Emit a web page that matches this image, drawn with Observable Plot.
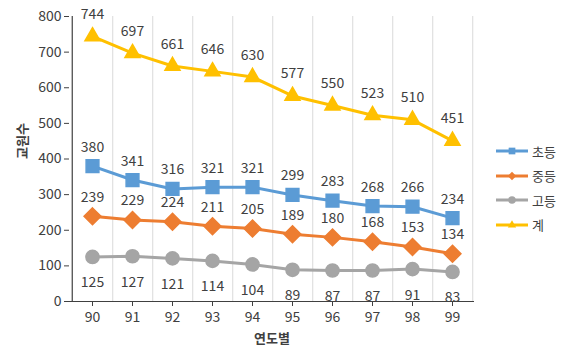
<!DOCTYPE html>
<html><head><meta charset="utf-8">
<script src="https://cdn.jsdelivr.net/npm/d3@7"></script>
<script src="https://cdn.jsdelivr.net/npm/@observablehq/plot@0.6"></script>
<style>
body{margin:0;background:#fff;font-family:"Noto Sans CJK KR","Noto Sans",sans-serif;}
#wrap{position:relative;width:570px;height:358px;}
#legend{position:absolute;left:494px;top:139px;font-size:13px;color:#404040;}
#legend .it{display:flex;align-items:center;height:24.5px;}
#legend svg{margin-right:2px;}
</style></head>
<body><div id="wrap"><div id="legend"></div></div>
<script>
const years = ["90","91","92","93","94","95","96","97","98","99"];
const elementary = [380,341,316,321,321,299,283,268,266,234];
const middle = [239,229,224,211,205,189,180,168,153,134];
const high = [125,127,121,114,104,89,87,87,91,83];
const total = [744,697,661,646,630,577,550,523,510,451];
const seriesNames = ["초등","중등","고등","계"];
const colors = ["#5B9BD5","#ED7D31","#A5A5A5","#FFC000"];
const symbols = ["square","diamond2","circle","triangle"];
const radii = [7.2,7.6,6.6,5.6];
const labelDy = [-19,-19,26,-22];
const yTicks = [0,100,200,300,400,500,600,700,800];

const valuesBySeries = [elementary, middle, high, total];
const data = [];
seriesNames.forEach((s,i)=>years.forEach((y,j)=>data.push({series:s, year:y, value:valuesBySeries[i][j], idx:i})));

const W=570, ML=69, MR=96;
const half = (W-ML-MR)/years.length/2;
const chart = Plot.plot({
  width:W, height:358,
  marginLeft:ML, marginRight:MR, marginTop:16, marginBottom:57,
  style:{fontFamily:'"Noto Sans CJK KR","Noto Sans",sans-serif', fontSize:"13px", color:"#404040", background:"#fff", overflow:"visible"},
  x:{type:"band", domain:years, padding:0, label:null},
  y:{domain:[0,800], label:null},
  marks:[
    Plot.tickX(years, {x:d=>d, dx:half, y1:0, y2:800, stroke:"#d9d9d9", strokeWidth:1}),
    Plot.axisY({ticks:yTicks, tickSize:5, tickPadding:3, fontSize:14, color:"#404040", label:null}),
    Plot.axisX({tickSize:5, tickPadding:6, fontSize:14, color:"#404040", label:null}),
    Plot.ruleY([0], {stroke:"#404040", strokeWidth:1.2}),
    Plot.tickX([years[0]], {x:d=>d, dx:-half, y1:0, y2:800, stroke:"#404040", strokeWidth:1.2}),
    ...seriesNames.map((s,i)=>Plot.line(data.filter(d=>d.idx===i), {x:"year", y:"value", stroke:colors[i], strokeWidth:3})),
    ...seriesNames.map((s,i)=>Plot.dot(data.filter(d=>d.idx===i), {x:"year", y:"value", fill:colors[i], stroke:colors[i], symbol:symbols[i], r:radii[i]})),
    ...seriesNames.map((s,i)=>Plot.text(data.filter(d=>d.idx===i), {x:"year", y:"value", text:d=>String(d.value), dy:labelDy[i], fill:"#404040", fontSize:14})),
    Plot.text(["연도별"], {frameAnchor:"bottom", dy:41, fontSize:13, fontWeight:"bold", fill:"#404040"}),
    Plot.text(["교원수"], {frameAnchor:"left", dx:-47, rotate:-90, fontSize:13, fontWeight:"bold", fill:"#404040"})
  ]
});
document.getElementById("wrap").prepend(chart);
// legend
const leg = document.getElementById("legend");
seriesNames.forEach((s,i)=>{
  const it = document.createElement("div"); it.className="it";
  const sw = d3.create("svg").attr("width",36).attr("height",14);
  sw.append("line").attr("x1",2).attr("x2",34).attr("y1",7).attr("y2",7).attr("stroke",colors[i]).attr("stroke-width",3);
  sw.append("path").attr("transform","translate(18,7)").attr("fill",colors[i])
    .attr("d", d3.symbol([d3.symbolSquare,d3.symbolDiamond2,d3.symbolCircle,d3.symbolTriangle][i], [45,45,45,30][i])());
  it.appendChild(sw.node());
  const t = document.createElement("span"); t.textContent=s; it.appendChild(t);
  leg.appendChild(it);
});
</script></body></html>
